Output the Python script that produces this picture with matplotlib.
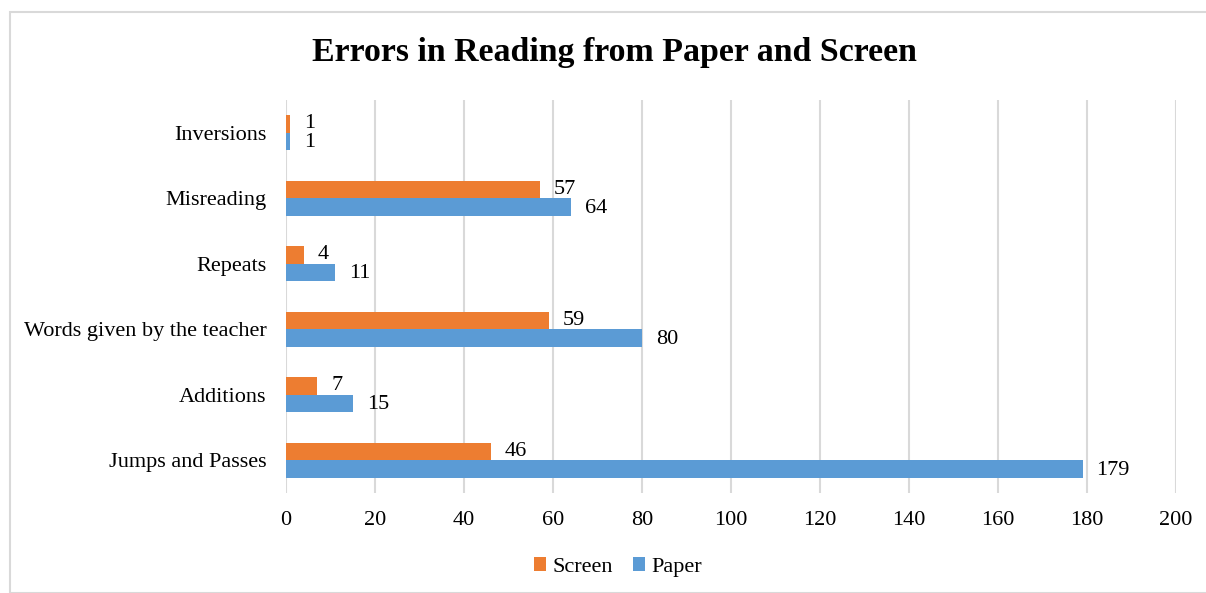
import matplotlib.pyplot as plt
from matplotlib.patches import Rectangle

# Data (top to bottom as shown in chart)
categories = ["Inversions", "Misreading", "Repeats", "Words given by the teacher",
              "Additions", "Jumps and Passes"]
screen = [1, 57, 4, 59, 7, 46]
paper = [1, 64, 11, 80, 15, 179]
x_ticks = [0, 20, 40, 60, 80, 100, 120, 140, 160, 180, 200]

orange = "#ED7D31"
blue = "#5B9BD5"
grid_c = "#D9D9D9"

plt.rcParams['font.family'] = ['Liberation Serif', 'DejaVu Serif']

fig = plt.figure(figsize=(12.06, 5.93), dpi=100)
fig.patches.append(Rectangle((10 / 1206, 0), 1.2, (593 - 12) / 593, transform=fig.transFigure,
                             fill=False, edgecolor=grid_c, linewidth=1.5))

ax = fig.add_axes([286 / 1206, 100 / 593, (1176 - 286) / 1206, (493 - 100) / 593])

n = len(categories)
ypos = [n - 1 - i for i in range(n)]
h = 0.27

ax.barh([y + h / 2 for y in ypos], screen, height=h, color=orange, label="Screen", zorder=3)
ax.barh([y - h / 2 for y in ypos], paper, height=h, color=blue, label="Paper", zorder=3)

for y, s, p in zip(ypos, screen, paper):
    ax.annotate(str(s), (s, y + h / 2), xytext=(10, 0), textcoords="offset points",
                ha="left", va="center", fontsize=16)
    ax.annotate(str(p), (p, y - h / 2), xytext=(10, -1), textcoords="offset points",
                ha="left", va="center", fontsize=16)

ax.set_xlim(0, 200)
ax.set_ylim(-0.5, n - 0.5)
ax.set_xticks(x_ticks)
ax.set_yticks(ypos)
ax.set_yticklabels(categories)
ax.tick_params(axis="both", length=0, labelsize=16)
ax.tick_params(axis="x", pad=13)
ax.tick_params(axis="y", pad=14)
ax.xaxis.grid(True, color=grid_c, linewidth=1.5, zorder=0)
for sp in ax.spines.values():
    sp.set_visible(False)

fig.text(614 / 1206, 1 - 52 / 593, "Errors in Reading from Paper and Screen",
         ha="center", va="center", fontsize=24.4, fontweight="bold")

fig.legend(loc="center", bbox_to_anchor=(618 / 1206, 1 - 567 / 593), ncol=2, frameon=False,
           fontsize=16, handlelength=0.55, handleheight=0.55, handletextpad=0.3,
           columnspacing=0.9)

fig.savefig("out.png", dpi=100)
